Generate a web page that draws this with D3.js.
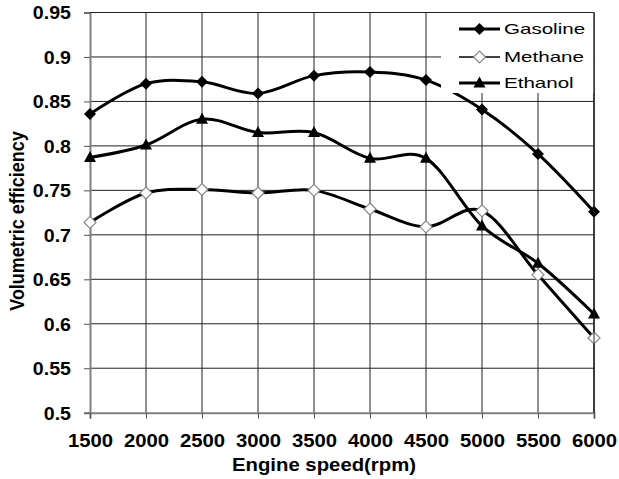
<!DOCTYPE html>
<html><head><meta charset="utf-8">
<script src="https://cdn.jsdelivr.net/npm/d3@7"></script>
<style>body{margin:0;background:#fff}</style>
</head><body>
<svg id="c" width="619" height="479"></svg>
<script>
const speeds = [1500,2000,2500,3000,3500,4000,4500,5000,5500,6000];
const gasoline = [0.836,0.870,0.872,0.859,0.879,0.883,0.874,0.841,0.791,0.726];
const methane  = [0.714,0.747,0.751,0.747,0.750,0.729,0.709,0.727,0.655,0.584];
const ethanol  = [0.787,0.801,0.830,0.815,0.815,0.786,0.786,0.710,0.668,0.611];
const yTicks = [0.5,0.55,0.6,0.65,0.7,0.75,0.8,0.85,0.9,0.95];
const seriesNames = ["Gasoline","Methane","Ethanol"];

const svg = d3.select("#c");
const L=90,R=594,T=12.5,B=412.7;
const x = d3.scaleLinear().domain([1500,6000]).range([L,R]);
const y = d3.scaleLinear().domain([0.5,0.95]).range([B,T]);
const font = "Liberation Sans, Arial, sans-serif";

// gridlines
svg.append("g").selectAll("line").data(yTicks.slice(1)).join("line")
  .attr("x1",L).attr("x2",R).attr("y1",d=>y(d)).attr("y2",d=>y(d))
  .attr("stroke","#222").attr("stroke-width",1);
svg.append("g").selectAll("line").data(speeds.slice(1)).join("line")
  .attr("x1",d=>x(d)).attr("x2",d=>x(d)).attr("y1",T).attr("y2",B)
  .attr("stroke","#222").attr("stroke-width",1);

// axes
const yAxis = svg.append("g").attr("transform",`translate(${L},0)`)
  .call(d3.axisLeft(y).tickValues(yTicks).tickSize(6).tickFormat(d=>String(+d.toFixed(2))));
const xAxis = svg.append("g").attr("transform",`translate(0,${B})`)
  .call(d3.axisBottom(x).tickValues(speeds).tickSize(6).tickFormat(d=>d));
[yAxis,xAxis].forEach(a=>{
  a.select(".domain").attr("stroke","#808080").attr("stroke-width",2);
  a.selectAll(".tick line").attr("stroke","#555");
  a.selectAll("text").attr("font-family",font).attr("font-weight","bold").attr("font-size",17.5).attr("fill","#000");
});
yAxis.selectAll("text").attr("x",0).attr("dy","0.36em").attr("transform","translate(-19,0) scale(1.12,1)");
xAxis.selectAll("text").attr("y",0).attr("dy",0).attr("transform","translate(0,34) scale(1.16,1)");

// frame top/right
svg.append("line").attr("x1",L).attr("x2",R).attr("y1",T).attr("y2",T).attr("stroke","#222");
svg.append("line").attr("x1",R).attr("x2",R).attr("y1",T).attr("y2",B).attr("stroke","#222");

const line = d3.line().x((d,i)=>x(speeds[i])).y(d=>y(d)).curve(d3.curveCardinal.tension(0));
const data = [gasoline,methane,ethanol];

const linesG = svg.append("g");
data.forEach(s=>{
  linesG.append("path").attr("d",line(s)).attr("fill","none").attr("stroke","#000").attr("stroke-width",3);
});

function marker(g,type,cx,cy){
  if(type===0){
    g.append("path").attr("d",`M${cx},${cy-6}L${cx+6},${cy}L${cx},${cy+6}L${cx-6},${cy}Z`).attr("fill","#000");
  } else if(type===1){
    g.append("path").attr("d",`M${cx},${cy-6}L${cx+6},${cy}L${cx},${cy+6}L${cx-6},${cy}Z`).attr("fill","#fff").attr("stroke","#888").attr("stroke-width",1.2);
  } else {
    g.append("path").attr("d",`M${cx},${cy-6.5}L${cx+6},${cy+4.5}L${cx-6},${cy+4.5}Z`).attr("fill","#000");
  }
}
const mg = svg.append("g");
data.forEach((s,k)=>s.forEach((v,i)=>marker(mg,k,x(speeds[i]),y(v))));

// legend on top
const lg2 = svg.append("g");
lg2.append("rect").attr("x",441).attr("y",T+0.5).attr("width",R-441-0.5).attr("height",80).attr("fill","#fff");
const ly=[29,57,83];
seriesNames.forEach((n,k)=>{
  lg2.append("line").attr("x1",459).attr("x2",500).attr("y1",ly[k]).attr("y2",ly[k]).attr("stroke","#000").attr("stroke-width",k===1?1.5:3);
  marker(lg2,k,479.5,ly[k]);
  lg2.append("text").attr("transform",`translate(504,${ly[k]}) scale(1.37,1)`).attr("dy","0.36em")
    .attr("font-family",font).attr("font-size",15).text(n);
});
svg.append("line").attr("x1",441).attr("x2",R).attr("y1",T).attr("y2",T).attr("stroke","#222");
svg.append("line").attr("x1",R).attr("x2",R).attr("y1",T).attr("y2",B).attr("stroke","#222");

// titles
svg.append("text").attr("transform","translate(324,471) scale(1.13,1)").attr("text-anchor","middle").attr("font-family",font)
  .attr("font-weight","bold").attr("font-size",18).text("Engine speed(rpm)");
svg.append("text").attr("transform","translate(24,221) rotate(-90) scale(1,1.15)").attr("text-anchor","middle")
  .attr("font-family",font).attr("font-size",18).attr("font-weight","bold").text("Volumetric efficiency");
</script>
</body></html>
